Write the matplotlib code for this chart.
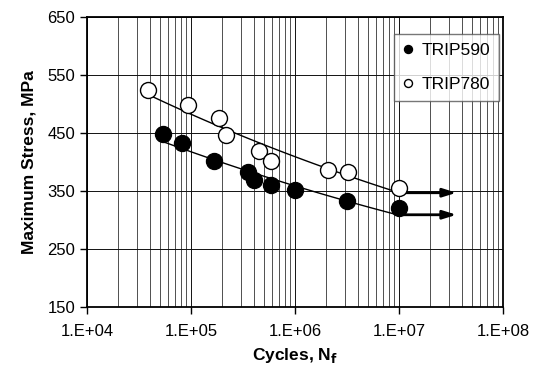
import numpy as np
import matplotlib
matplotlib.use("Agg")
import matplotlib.pyplot as plt
from matplotlib.ticker import FixedLocator, LogLocator, NullFormatter

plt.rcParams['font.family'] = ['Liberation Sans', 'DejaVu Sans']

# Data
trip590_cycles = [5.4e4, 8.2e4, 1.65e5, 3.56e5, 4.0e5, 5.9e5, 1.0e6, 3.14e6, 1.0e7]
trip590_stress = [449, 433, 401, 383, 369, 360, 352, 333, 320]
trip780_cycles = [3.9e4, 9.3e4, 1.86e5, 2.17e5, 4.54e5, 5.9e5, 2.09e6, 3.26e6, 1.0e7]
trip780_stress = [524, 498, 475, 447, 419, 402, 387, 382, 356]
runout_start = [1.0e7, 1.0e7]
runout_end = [3.8e7, 3.8e7]
runout_stress = [309, 347]
xticks = [1e4, 1e5, 1e6, 1e7, 1e8]
xtick_labels = ['1.E+04', '1.E+05', '1.E+06', '1.E+07', '1.E+08']
yticks = [150, 250, 350, 450, 550, 650]

fig = plt.figure(figsize=(5.36, 3.73), dpi=100)
ax = fig.add_axes([0.1623, 0.177, 0.9384 - 0.1623, 0.9544 - 0.177])
ax.set_xscale('log')
ax.set_xlim(1e4, 1e8)
ax.set_ylim(150, 650)

# grid
ax.xaxis.set_major_locator(FixedLocator(xticks))
ax.xaxis.set_minor_locator(LogLocator(base=10, subs=np.arange(2, 10)))
ax.xaxis.set_minor_formatter(NullFormatter())
ax.set_xticks(xticks)
ax.set_xticklabels(xtick_labels)
ax.set_yticks(yticks)
ax.grid(True, which='major', axis='both', color='#111111', lw=0.7)
ax.grid(True, which='minor', axis='x', color='#333333', lw=0.6)
ax.set_axisbelow(True)

# trend lines (power fits)
def trend(xs, ys):
    lx = np.log10(xs); ly = np.log10(ys)
    b, a = np.polyfit(lx, ly, 1)
    xx = np.logspace(lx.min(), lx.max(), 100)
    return xx, 10 ** (a + b * np.log10(xx))

for xs, ys in [(trip590_cycles, trip590_stress), (trip780_cycles, trip780_stress)]:
    xx, yy = trend(np.array(xs), np.array(ys))
    ax.plot(xx, yy, color='black', lw=1.0, zorder=2)

for xs, xe, y in zip(runout_start, runout_end, runout_stress):
    ax.annotate('', xy=(xe, y), xytext=(xs, y),
                arrowprops=dict(arrowstyle='-|>,head_length=0.8,head_width=0.25',
                                color='black', lw=2.0), zorder=3)

ax.plot(trip590_cycles, trip590_stress, 'o', ms=11.5, mfc='black', mec='black',
        mew=1.0, ls='none', label='TRIP590', zorder=4)
ax.plot(trip780_cycles, trip780_stress, 'o', ms=11.5, mfc='white', mec='black',
        mew=1.0, ls='none', label='TRIP780', zorder=4)

leg = ax.legend(loc='upper right', bbox_to_anchor=(0.99, 0.94), markerscale=0.5,
                fontsize=12.5, frameon=True, fancybox=False, edgecolor='#555555',
                handlelength=0.6, handletextpad=0.5, borderpad=0.5,
                labelspacing=1.1, borderaxespad=0.0)
leg.get_frame().set_linewidth(1.0)

for s in ax.spines.values():
    s.set_linewidth(1.3)
    s.set_color('black')

ax.tick_params(axis='both', which='major', direction='out', length=5, width=1.0,
               labelsize=12, colors='black')
ax.tick_params(axis='x', which='minor', length=0)
ax.tick_params(axis='x', pad=7)

ax.set_ylabel('Maximum Stress, MPa', fontsize=12.5, fontweight='bold', labelpad=8)
ax.set_xlabel(r'Cycles, N$_\mathbf{f}$', fontsize=12.5, fontweight='bold', labelpad=5)

fig.savefig('out.png', dpi=100)
